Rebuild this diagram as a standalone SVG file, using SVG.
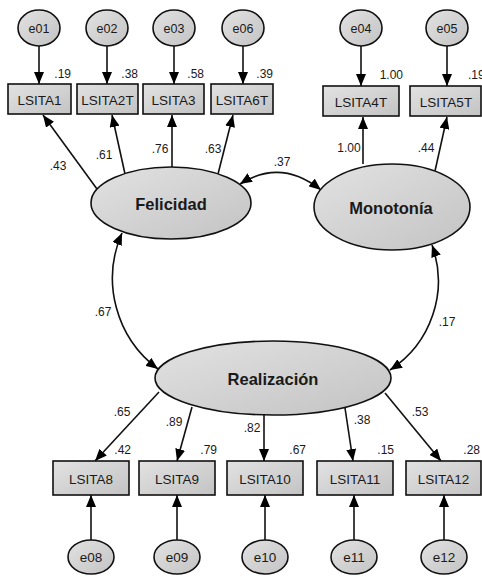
<svg xmlns="http://www.w3.org/2000/svg" width="482" height="577" viewBox="0 0 482 577">
<defs>
<linearGradient id="g" x1="0" y1="0" x2="1" y2="1">
<stop offset="0" stop-color="#e2e2e2"/>
<stop offset="1" stop-color="#c3c3c3"/>
</linearGradient>
<marker id="ah" markerUnits="userSpaceOnUse" markerWidth="13" markerHeight="10" refX="12" refY="5" orient="auto-start-reverse">
<path d="M0,0 L12,5 L0,10 z" fill="#000"/>
</marker>
<style>
.sh{fill:url(#g);stroke:#111;stroke-width:1.6}
.ln{fill:none;stroke:#111;stroke-width:1.6}
.a{marker-end:url(#ah)}
.d{marker-start:url(#ah);marker-end:url(#ah)}
text{font-family:"Liberation Sans",Arial,sans-serif;fill:#1a1a1a;text-anchor:middle}
.bx{font-size:13.5px}
.ec{font-size:12.5px}
.eb{font-size:13.5px}
.lat{font-size:16.5px;font-weight:bold}
.n{font-size:12px}
.r{font-size:12px;text-anchor:end}
</style>
</defs>
<rect width="482" height="577" fill="#fff"/>

<g id="connectors">
<!-- error to indicator, top -->
<line class="ln a" x1="39" y1="46" x2="39" y2="84"/>
<line class="ln a" x1="107" y1="46" x2="107" y2="84"/>
<line class="ln a" x1="174" y1="46" x2="174" y2="84"/>
<line class="ln a" x1="243" y1="46" x2="243" y2="84"/>
<line class="ln a" x1="361" y1="46" x2="361" y2="86"/>
<line class="ln a" x1="447" y1="46" x2="447" y2="86"/>
<!-- Felicidad loadings -->
<line class="ln a" x1="97" y1="189" x2="43" y2="115"/>
<line class="ln a" x1="125" y1="174" x2="112" y2="115"/>
<line class="ln a" x1="172" y1="167" x2="172" y2="115"/>
<line class="ln a" x1="218" y1="174" x2="233" y2="115"/>
<!-- Monotonia loadings -->
<line class="ln a" x1="363" y1="164" x2="363" y2="117"/>
<line class="ln a" x1="435" y1="171" x2="447" y2="117"/>
<!-- covariances -->
<path class="ln d" d="M240,184 Q281,158 321,190"/>
<path class="ln d" d="M122,233 A113,113 0 0 0 158,369"/>
<path class="ln d" d="M432,245 A106,106 0 0 1 390,370"/>
<!-- Realizacion loadings -->
<line class="ln a" x1="159" y1="392" x2="95" y2="461"/>
<line class="ln a" x1="192" y1="407" x2="177" y2="461"/>
<line class="ln a" x1="264" y1="415" x2="264" y2="461"/>
<line class="ln a" x1="345" y1="408" x2="353" y2="461"/>
<line class="ln a" x1="385" y1="393" x2="441" y2="461"/>
<!-- error to indicator, bottom -->
<line class="ln a" x1="91" y1="540" x2="91" y2="495"/>
<line class="ln a" x1="177" y1="540" x2="177" y2="495"/>
<line class="ln a" x1="265" y1="540" x2="265" y2="495"/>
<line class="ln a" x1="354" y1="540" x2="354" y2="495"/>
<line class="ln a" x1="444" y1="540" x2="444" y2="495"/>
</g>

<g id="labels">
<text class="n" x="58" y="170">.43</text>
<text class="n" x="104" y="159">.61</text>
<text class="n" x="160" y="153">.76</text>
<text class="n" x="213" y="153">.63</text>
<text class="n" x="349" y="152">1.00</text>
<text class="n" x="426" y="152">.44</text>
<text class="n" x="282" y="166">.37</text>
<text class="n" x="103" y="316">.67</text>
<text class="n" x="447" y="326">.17</text>
<text class="n" x="122" y="416">.65</text>
<text class="n" x="174" y="426">.89</text>
<text class="n" x="252" y="432">.82</text>
<text class="n" x="362" y="424">.38</text>
<text class="n" x="420" y="416">.53</text>
</g>

<g id="e01"><ellipse class="sh" cx="39" cy="28" rx="21" ry="18"/><text class="ec" x="39" y="32.5">e01</text></g>
<g id="e02"><ellipse class="sh" cx="107" cy="28" rx="21" ry="18"/><text class="ec" x="107" y="32.5">e02</text></g>
<g id="e03"><ellipse class="sh" cx="174" cy="28" rx="21" ry="18"/><text class="ec" x="174" y="32.5">e03</text></g>
<g id="e06"><ellipse class="sh" cx="243" cy="28" rx="21" ry="18"/><text class="ec" x="243" y="32.5">e06</text></g>
<g id="e04"><ellipse class="sh" cx="361" cy="28" rx="21" ry="18"/><text class="ec" x="361" y="32.5">e04</text></g>
<g id="e05"><ellipse class="sh" cx="447" cy="28" rx="21" ry="18"/><text class="ec" x="447" y="32.5">e05</text></g>

<g id="LSITA1"><rect class="sh" x="8" y="84" width="63" height="30"/><text class="bx" x="39.5" y="104.5">LSITA1</text><text class="r" x="71" y="78">.19</text></g>
<g id="LSITA2T"><rect class="sh" x="77" y="84" width="61" height="30"/><text class="bx" x="107.5" y="104.5">LSITA2T</text><text class="r" x="138" y="78">.38</text></g>
<g id="LSITA3"><rect class="sh" x="143" y="84" width="61" height="30"/><text class="bx" x="173.5" y="104.5">LSITA3</text><text class="r" x="204" y="78">.58</text></g>
<g id="LSITA6T"><rect class="sh" x="211" y="84" width="62" height="30"/><text class="bx" x="242" y="104.5">LSITA6T</text><text class="r" x="273" y="78">.39</text></g>
<g id="LSITA4T"><rect class="sh" x="323" y="86" width="76" height="30"/><text class="bx" x="361" y="106.5">LSITA4T</text><text class="r" x="403" y="79">1.00</text></g>
<g id="LSITA5T"><rect class="sh" x="410" y="86" width="71" height="30"/><text class="bx" x="446" y="106.5">LSITA5T</text><text class="n" x="468" y="79" style="text-anchor:start">.19</text></g>

<g id="Felicidad"><ellipse class="sh" cx="171" cy="203" rx="80" ry="36"/><text class="lat" x="171" y="209.5">Felicidad</text></g>
<g id="Monotonia"><ellipse class="sh" cx="392" cy="207" rx="78" ry="43"/><text class="lat" x="391" y="213.5">Monotonía</text></g>
<g id="Realizacion"><ellipse class="sh" cx="273" cy="378" rx="118" ry="37"/><text class="lat" x="273" y="384.5">Realización</text></g>

<g id="LSITA8"><rect class="sh" x="53" y="461" width="76" height="34"/><text class="bx" x="91" y="483.5">LSITA8</text><text class="r" x="131" y="454">.42</text></g>
<g id="LSITA9"><rect class="sh" x="139" y="461" width="76" height="34"/><text class="bx" x="177" y="483.5">LSITA9</text><text class="r" x="217" y="454">.79</text></g>
<g id="LSITA10"><rect class="sh" x="227" y="461" width="76" height="34"/><text class="bx" x="265" y="483.5">LSITA10</text><text class="r" x="306" y="454">.67</text></g>
<g id="LSITA11"><rect class="sh" x="317" y="461" width="76" height="34"/><text class="bx" x="355" y="483.5">LSITA11</text><text class="r" x="394" y="454">.15</text></g>
<g id="LSITA12"><rect class="sh" x="406" y="461" width="75" height="34"/><text class="bx" x="443.5" y="483.5">LSITA12</text><text class="r" x="480" y="454">.28</text></g>

<g id="e08"><ellipse class="sh" cx="91" cy="557" rx="23" ry="17"/><text class="eb" x="91" y="562">e08</text></g>
<g id="e09"><ellipse class="sh" cx="177" cy="557" rx="23" ry="17"/><text class="eb" x="177" y="562">e09</text></g>
<g id="e10"><ellipse class="sh" cx="265" cy="557" rx="23" ry="17"/><text class="eb" x="265" y="562">e10</text></g>
<g id="e11"><ellipse class="sh" cx="354" cy="557" rx="23" ry="17"/><text class="eb" x="354" y="562">e11</text></g>
<g id="e12"><ellipse class="sh" cx="444" cy="557" rx="23" ry="17"/><text class="eb" x="444" y="562">e12</text></g>
</svg>
